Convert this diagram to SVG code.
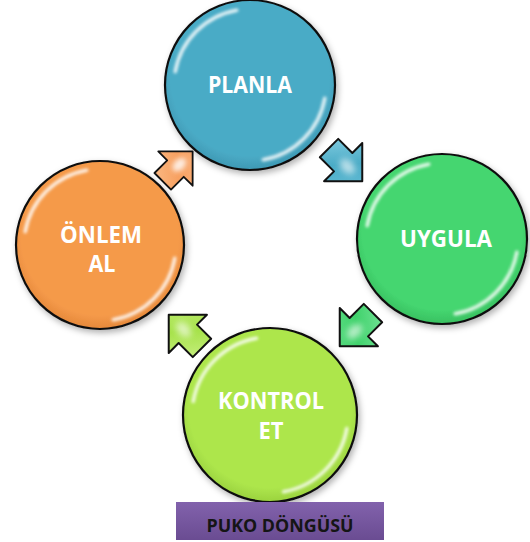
<svg xmlns="http://www.w3.org/2000/svg" width="530" height="542" viewBox="0 0 530 542">
<style>
.ring{stroke:#111;stroke-width:2.2}
.hl{fill:none;stroke:#fff;stroke-width:3.5;stroke-linecap:round;opacity:0.85}
.lbl{font-family:"Open Sans","Liberation Sans",sans-serif;font-weight:bold;font-size:23px;fill:#fff;text-anchor:middle}
.arr{stroke:#111;stroke-width:2;stroke-linejoin:round}
.title{font-family:"Open Sans","Liberation Sans",sans-serif;font-weight:bold;font-size:17px;fill:#151515;text-anchor:middle}
</style>
<defs>
<filter id="sh" x="-20%" y="-20%" width="140%" height="140%">
<feDropShadow dx="2" dy="3" stdDeviation="3" flood-color="#000" flood-opacity="0.3"/>
</filter>
<filter id="bl" x="-20%" y="-20%" width="140%" height="140%"><feGaussianBlur stdDeviation="1.6"/></filter>
<filter id="bl2" x="-50%" y="-50%" width="200%" height="200%"><feGaussianBlur stdDeviation="3"/></filter>
<radialGradient id="gB" cx="50%" cy="45%" r="55%"><stop offset="0.85" stop-color="#4AABC6"/><stop offset="1" stop-color="#3E98B3"/></radialGradient>
<radialGradient id="gG" cx="50%" cy="45%" r="55%"><stop offset="0.85" stop-color="#45D670"/><stop offset="1" stop-color="#38C060"/></radialGradient>
<radialGradient id="gL" cx="50%" cy="45%" r="55%"><stop offset="0.85" stop-color="#ADE64C"/><stop offset="1" stop-color="#9AD23E"/></radialGradient>
<radialGradient id="gO" cx="50%" cy="45%" r="55%"><stop offset="0.85" stop-color="#F59A4A"/><stop offset="1" stop-color="#E5883A"/></radialGradient>
<linearGradient id="aB" x1="0" y1="0" x2="1" y2="1"><stop offset="0" stop-color="#8ED3E6"/><stop offset="0.5" stop-color="#4AABC6"/><stop offset="1" stop-color="#6CC3DA"/></linearGradient>
<linearGradient id="aG" x1="0" y1="0" x2="1" y2="1"><stop offset="0" stop-color="#7FE6A0"/><stop offset="0.5" stop-color="#3FD26B"/><stop offset="1" stop-color="#6BE090"/></linearGradient>
<linearGradient id="aL" x1="0" y1="0" x2="1" y2="1"><stop offset="0" stop-color="#CFF28C"/><stop offset="0.5" stop-color="#A6E24A"/><stop offset="1" stop-color="#C3EE7A"/></linearGradient>
<linearGradient id="aO" x1="0" y1="0" x2="1" y2="1"><stop offset="0" stop-color="#FBC08E"/><stop offset="0.5" stop-color="#F7A060"/><stop offset="1" stop-color="#FAB888"/></linearGradient>
<linearGradient id="gP" x1="0" y1="0" x2="0" y2="1"><stop offset="0" stop-color="#8262AC"/><stop offset="1" stop-color="#6A4C92"/></linearGradient>
<path id="arrow" d="M-24,-13 L-4,-13 L-4,-27 L23,0 L-4,27 L-4,13 L-24,13 Z"/>
</defs>

<g id="connectors">
<g id="arrow-plan-uygula" transform="translate(346,165) rotate(45)">
<use href="#arrow" class="arr" fill="url(#aB)"/>
<ellipse cx="2" cy="0" rx="9" ry="6" fill="#fff" opacity="0.6" filter="url(#bl2)"/>
</g>
<g id="arrow-uygula-kontrol" transform="translate(356,330) rotate(135)">
<use href="#arrow" class="arr" fill="url(#aG)"/>
<ellipse cx="2" cy="0" rx="9" ry="6" fill="#fff" opacity="0.6" filter="url(#bl2)"/>
</g>
<g id="arrow-kontrol-onlem" transform="translate(185,331) rotate(225)">
<use href="#arrow" class="arr" fill="url(#aL)"/>
<ellipse cx="2" cy="0" rx="9" ry="6" fill="#fff" opacity="0.6" filter="url(#bl2)"/>
</g>
<g id="arrow-onlem-plan" transform="translate(178,166) rotate(-45) scale(0.9)">
<use href="#arrow" class="arr" fill="url(#aO)"/>
<ellipse cx="2" cy="0" rx="9" ry="6" fill="#fff" opacity="0.8" filter="url(#bl2)"/>
</g>
</g>

<g id="node-planla" transform="translate(250,85)">
<circle r="85" class="ring" fill="url(#gB)" filter="url(#sh)"/>
<path class="hl" filter="url(#bl)" d="M-74.8,-13.2 A76,76 0 0 1 -13.2,-74.8"/>
<path class="hl" filter="url(#bl)" d="M74.8,13.2 A76,76 0 0 1 13.2,74.8"/>
<text class="lbl" x="0" y="8" textLength="84" lengthAdjust="spacingAndGlyphs">PLANLA</text>
</g>

<g id="node-uygula" transform="translate(442,239)">
<circle r="85" class="ring" fill="url(#gG)" filter="url(#sh)"/>
<path class="hl" filter="url(#bl)" d="M-74.8,-13.2 A76,76 0 0 1 -13.2,-74.8"/>
<path class="hl" filter="url(#bl)" d="M74.8,13.2 A76,76 0 0 1 13.2,74.8"/>
<text class="lbl" x="4" y="8" textLength="92" lengthAdjust="spacingAndGlyphs">UYGULA</text>
</g>

<g id="node-onlem" transform="translate(100,245)">
<circle r="84" class="ring" fill="url(#gO)" filter="url(#sh)"/>
<path class="hl" filter="url(#bl)" d="M-74.8,-13.2 A76,76 0 0 1 -13.2,-74.8"/>
<path class="hl" filter="url(#bl)" d="M74.8,13.2 A76,76 0 0 1 13.2,74.8"/>
<text class="lbl" x="1" y="-2" textLength="82" lengthAdjust="spacingAndGlyphs">ÖNLEM</text>
<text class="lbl" x="2" y="27" textLength="27" lengthAdjust="spacingAndGlyphs">AL</text>
</g>

<g id="node-kontrol" transform="translate(270,415)">
<circle r="87" class="ring" fill="url(#gL)" filter="url(#sh)"/>
<path class="hl" filter="url(#bl)" d="M-76.8,-13.5 A78,78 0 0 1 -13.5,-76.8"/>
<path class="hl" filter="url(#bl)" d="M76.8,13.5 A78,78 0 0 1 13.5,76.8"/>
<text class="lbl" x="1" y="-6" textLength="106" lengthAdjust="spacingAndGlyphs">KONTROL</text>
<text class="lbl" x="1" y="24" textLength="25" lengthAdjust="spacingAndGlyphs">ET</text>
</g>

<g id="title">
<rect x="176" y="502" width="208" height="38" fill="url(#gP)"/>
<text class="title" x="280" y="532" textLength="147" lengthAdjust="spacingAndGlyphs">PUKO DÖNGÜSÜ</text>
</g>
</svg>
